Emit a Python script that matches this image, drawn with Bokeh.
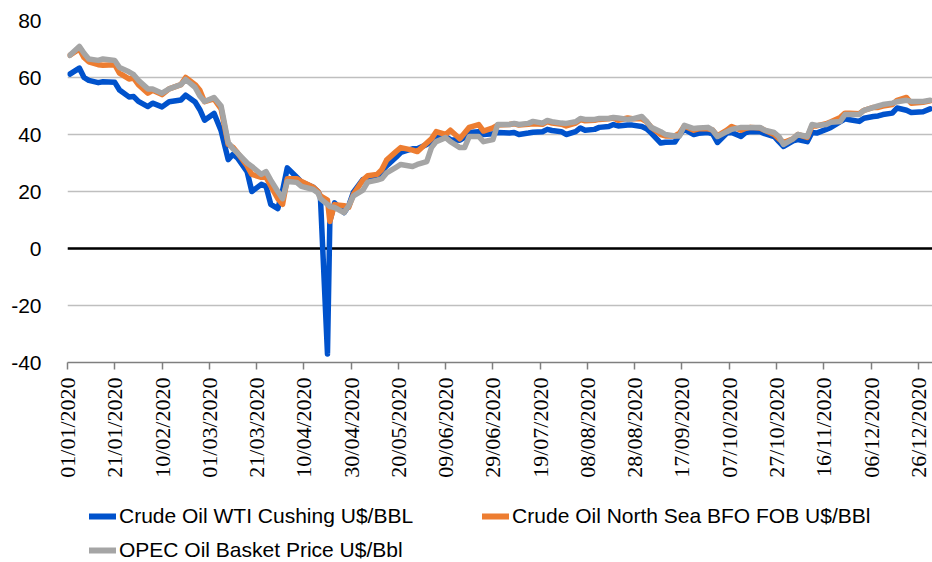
import pandas as pd
from bokeh.plotting import figure
from bokeh.layouts import column
from bokeh.models import Range1d, FixedTicker, DatetimeTickFormatter, Span, Legend, LegendItem
from bokeh.embed import file_html
from bokeh.resources import INLINE

dates = [
    "2020-01-02", "2020-01-06", "2020-01-08", "2020-01-10", "2020-01-14", "2020-01-16", "2020-01-21", "2020-01-23", "2020-01-27", "2020-01-29", "2020-01-31",
    "2020-02-04", "2020-02-06", "2020-02-10", "2020-02-13", "2020-02-18", "2020-02-20", "2020-02-24", "2020-02-26", "2020-02-28",
    "2020-03-03", "2020-03-06", "2020-03-09", "2020-03-11", "2020-03-13", "2020-03-17", "2020-03-19", "2020-03-23", "2020-03-25", "2020-03-27", "2020-03-30",
    "2020-04-01", "2020-04-03", "2020-04-07", "2020-04-09", "2020-04-14", "2020-04-16", "2020-04-17", "2020-04-20", "2020-04-21", "2020-04-23", "2020-04-27", "2020-04-29",
    "2020-05-01", "2020-05-05", "2020-05-07", "2020-05-11", "2020-05-13", "2020-05-15", "2020-05-19", "2020-05-21", "2020-05-26", "2020-05-28",
    "2020-06-01", "2020-06-03", "2020-06-05", "2020-06-09", "2020-06-11", "2020-06-15", "2020-06-17", "2020-06-19", "2020-06-23", "2020-06-25", "2020-06-29",
    "2020-07-01", "2020-07-06", "2020-07-08", "2020-07-10", "2020-07-14", "2020-07-16", "2020-07-20", "2020-07-22", "2020-07-24", "2020-07-28", "2020-07-30",
    "2020-08-03", "2020-08-05", "2020-08-07", "2020-08-11", "2020-08-13", "2020-08-17", "2020-08-19", "2020-08-21", "2020-08-25", "2020-08-27", "2020-08-31",
    "2020-09-02", "2020-09-04", "2020-09-08", "2020-09-10", "2020-09-14", "2020-09-16", "2020-09-18", "2020-09-22", "2020-09-24", "2020-09-28", "2020-09-30",
    "2020-10-02", "2020-10-06", "2020-10-08", "2020-10-12", "2020-10-14", "2020-10-16", "2020-10-20", "2020-10-22", "2020-10-26", "2020-10-28", "2020-10-30",
    "2020-11-03", "2020-11-05", "2020-11-09", "2020-11-11", "2020-11-13", "2020-11-17", "2020-11-19", "2020-11-23", "2020-11-25", "2020-11-27",
    "2020-12-01", "2020-12-03", "2020-12-07", "2020-12-09", "2020-12-11", "2020-12-15", "2020-12-17", "2020-12-21", "2020-12-23", "2020-12-28", "2020-12-31",
]

wti = [
    61.2, 63.3, 60.0, 59.0, 58.2, 58.5, 58.3, 55.6, 53.2, 53.3, 51.6,
    49.8, 51.0, 49.7, 51.5, 52.1, 53.8, 51.4, 48.7, 45.0,
    47.4, 41.3, 31.2, 33.0, 31.7, 27.0, 20.0, 22.5, 21.8, 15.5, 14.0,
    20.3, 28.3, 25.0, 23.3, 21.5, 19.9, 18.3, -37.0, 9.5, 16.0, 12.6, 15.0,
    19.8, 24.2, 24.2, 24.5, 27.0, 29.0, 32.0, 33.7, 35.0, 35.0,
    36.5, 37.5, 39.3, 39.3, 38.2, 38.0, 39.0, 40.7, 41.0, 40.0, 40.3,
    40.7, 40.5, 40.7, 40.0, 40.5, 40.8, 41.0, 41.8, 41.4, 41.0, 40.0,
    41.0, 42.3, 41.5, 41.8, 42.5, 42.8, 43.5, 43.0, 43.3, 43.3, 42.8,
    42.0, 40.5, 37.0, 37.3, 37.4, 40.0, 41.8, 40.0, 40.4, 40.7, 40.2,
    37.2, 40.5, 40.7, 39.3, 40.7, 41.0, 41.0, 40.3, 39.3, 37.5, 35.8,
    37.8, 38.2, 37.5, 40.7, 40.5, 41.8, 42.5, 44.5, 45.5, 45.2,
    44.6, 45.7, 46.3, 46.5, 47.0, 47.5, 49.3, 48.5, 47.7, 48.0, 49.0,
]

bfo = [
    67.8, 70.0, 67.0, 65.5, 64.5, 64.3, 64.5, 61.5, 59.5, 59.8, 57.5,
    54.5, 55.5, 54.0, 56.0, 57.5, 60.0, 57.5, 55.5, 51.5,
    52.5, 49.0, 36.5, 35.5, 33.5, 29.0, 26.0, 25.0, 25.0, 22.0, 17.5,
    15.5, 24.5, 24.5, 23.5, 21.5, 20.0, 18.5, 17.0, 9.5, 15.4, 15.0, 14.5,
    19.0, 24.0, 25.5, 26.0, 27.7, 31.0, 34.0, 35.4, 34.5, 34.0,
    37.0, 38.5, 41.0, 40.0, 41.5, 38.5, 40.5, 42.5, 43.5, 41.2, 42.3,
    43.3, 43.5, 43.8, 43.3, 43.6, 43.8, 43.6, 44.5, 44.0, 43.6, 43.0,
    44.0, 45.2, 44.8, 45.0, 45.3, 45.5, 45.8, 45.0, 45.8, 45.5, 45.5,
    44.5, 42.5, 40.0, 39.5, 39.5, 40.5, 43.0, 41.5, 42.0, 42.0, 41.5,
    39.5, 41.5, 42.8, 41.5, 42.2, 42.5, 42.3, 41.5, 40.0, 38.5, 37.2,
    38.5, 40.0, 39.0, 43.0, 43.0, 43.8, 44.5, 46.0, 47.5, 47.5,
    47.3, 48.5, 49.5, 49.5, 50.0, 50.5, 52.0, 53.0, 51.0, 51.3, 51.8,
]

opec = [
    67.8, 70.9, 68.5, 66.5, 66.0, 66.5, 66.0, 63.5, 62.0, 61.0, 59.0,
    56.0, 56.0, 54.5, 56.0, 57.5, 59.3, 56.5, 53.5, 51.6,
    53.0, 50.0, 37.2, 35.0, 33.5, 30.0, 28.8, 26.0, 27.0, 24.0, 20.0,
    17.5, 23.5, 23.2, 21.8, 20.7, 19.5, 17.5, 15.5, 14.7, 14.4, 12.6, 15.0,
    18.5, 20.5, 23.3, 24.0, 24.5, 26.5, 28.5, 29.5, 28.8, 29.5,
    30.5, 35.4, 37.5, 38.9, 37.5, 35.4, 35.4, 39.3, 39.3, 37.5, 38.2,
    43.5, 43.5, 43.9, 43.5, 43.9, 44.6, 44.0, 44.9, 44.5, 44.0, 43.9,
    44.5, 45.6, 45.3, 45.3, 45.6, 45.6, 46.0, 45.8, 45.3, 45.5, 46.3,
    44.6, 42.5, 41.0, 40.0, 39.5, 39.5, 43.2, 42.1, 42.3, 42.5, 41.5,
    39.3, 41.0, 41.8, 42.5, 42.5, 42.5, 42.5, 41.5, 40.7, 39.3, 36.5,
    38.5, 40.0, 39.3, 43.5, 43.2, 43.5, 44.3, 44.6, 47.0, 47.0,
    47.0, 48.5, 49.5, 50.0, 50.5, 51.0, 51.5, 52.0, 51.6, 51.6, 52.0,
]

series_names = [
    "Crude Oil WTI Cushing U$/BBL",
    "Crude Oil North Sea BFO FOB U$/BBl",
    "OPEC Oil Basket Price U$/Bbl",
]
series_colors = ["#0052CC", "#ED7D31", "#A5A5A5"]

x_tick_labels = [
    "01/01/2020", "21/01/2020", "10/02/2020", "01/03/2020", "21/03/2020", "10/04/2020",
    "30/04/2020", "20/05/2020", "09/06/2020", "29/06/2020", "19/07/2020", "08/08/2020",
    "28/08/2020", "17/09/2020", "07/10/2020", "27/10/2020", "16/11/2020", "06/12/2020",
    "26/12/2020",
]
y_ticks = [-40, -20, 0, 20, 40, 60, 80]

x = pd.to_datetime(dates)
tick_ms = [pd.Timestamp(pd.to_datetime(t, format="%d/%m/%Y")).value / 1e6 for t in x_tick_labels]
all_series = [wti, bfo, opec]

LINE_W = 5.5

# ---------------- main chart ----------------
p = figure(
    width=932, height=490,
    x_axis_type="datetime",
    x_range=Range1d(pd.Timestamp("2020-01-01"), pd.Timestamp("2021-01-01")),
    y_range=Range1d(-40, 80),
    output_backend="svg", toolbar_location=None,
    min_border_left=67, min_border_right=0, min_border_top=20, min_border_bottom=128,
)
p.outline_line_color = None
p.background_fill_color = "white"
p.border_fill_color = "white"

p.xgrid.visible = False
p.ygrid.ticker = FixedTicker(ticks=y_ticks)
p.ygrid.grid_line_color = "#BFBFBF"
p.ygrid.grid_line_width = 1.5

p.yaxis.ticker = FixedTicker(ticks=y_ticks)
p.yaxis.major_label_overrides = {t: str(t) for t in y_ticks}
p.yaxis.axis_line_color = None
p.yaxis.major_tick_line_color = None
p.yaxis.minor_tick_line_color = None
p.yaxis.major_tick_out = 0
p.yaxis.major_tick_in = 0
p.yaxis.major_label_standoff = 26
p.yaxis.major_label_text_font = "Liberation Sans"
p.yaxis.major_label_text_font_size = "21px"
p.yaxis.major_label_text_color = "#000000"

fmt = "%d/%m/%Y"
p.xaxis.ticker = FixedTicker(ticks=tick_ms)
p.xaxis.formatter = DatetimeTickFormatter(
    milliseconds=fmt, seconds=fmt, minsec=fmt, minutes=fmt, hourmin=fmt,
    hours=fmt, days=fmt, months=fmt, years=fmt,
)
p.xaxis.major_label_orientation = 3.14159265 / 2
p.xaxis.axis_line_color = "#7F7F7F"
p.xaxis.axis_line_width = 1.5
p.xaxis.major_tick_line_color = "#7F7F7F"
p.xaxis.major_tick_line_width = 1.5
p.xaxis.major_tick_out = 7
p.xaxis.major_tick_in = 0
p.xaxis.minor_tick_line_color = None
p.xaxis.major_label_standoff = 8
p.xaxis.major_label_text_font = "Liberation Sans Narrow"
p.xaxis.major_label_text_font_size = "22px"
p.xaxis.major_label_text_color = "#000000"

zero = Span(location=0, dimension="width", line_color="black", line_width=2.5, level="underlay")
p.add_layout(zero)

for vals, col in zip(all_series, series_colors):
    p.line(x, vals, line_color=col, line_width=LINE_W, line_join="round", line_cap="round")

# ---------------- legend strip ----------------
q = figure(
    width=932, height=72,
    x_axis_type="datetime",
    x_range=p.x_range, y_range=p.y_range,
    output_backend="svg", toolbar_location=None,
    x_axis_location=None, y_axis_location=None,
    min_border_left=0, min_border_right=0, min_border_top=0, min_border_bottom=0,
)
q.outline_line_color = None
q.xgrid.visible = False
q.ygrid.visible = False
q.background_fill_color = "white"
q.border_fill_color = "white"

keys = [
    q.line(x, vals, line_color=c, line_width=6, line_cap="round", visible=False)
    for vals, c in zip(all_series, series_colors)
]

leg_common = dict(
    padding=0, margin=0, border_line_color=None, background_fill_alpha=0,
    inactive_fill_alpha=0,
    label_text_font="Liberation Sans", label_text_font_size="21px", label_text_color="#000000",
    glyph_width=27, glyph_height=24, label_height=24, label_standoff=3,
)
leg1 = Legend(
    items=[LegendItem(label=series_names[0], renderers=[keys[0]]),
           LegendItem(label=series_names[1], renderers=[keys[1]])],
    orientation="horizontal", spacing=69, location=(22, 34), **leg_common,
)
leg2 = Legend(
    items=[LegendItem(label=series_names[2], renderers=[keys[2]])],
    orientation="horizontal", location=(22, 0), **leg_common,
)
q.add_layout(leg1)
q.add_layout(leg2)

layout = column(p, q, spacing=0)
open("out.html", "w").write(file_html(layout, INLINE))
